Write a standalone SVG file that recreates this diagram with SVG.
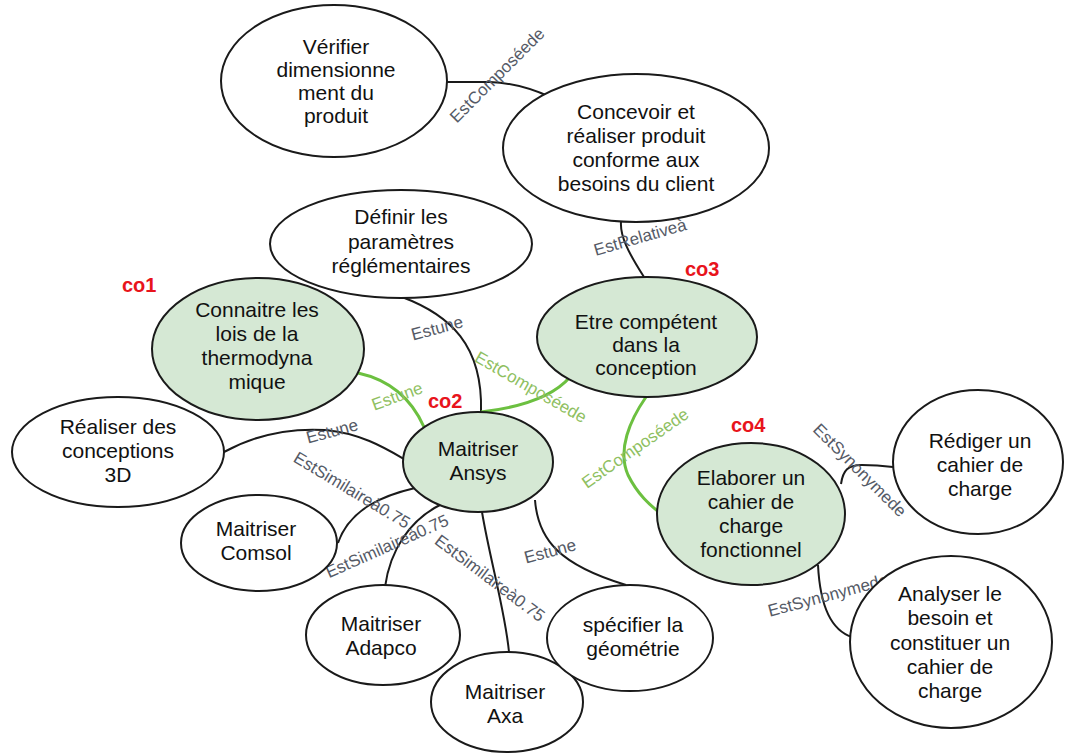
<svg xmlns="http://www.w3.org/2000/svg" width="1067" height="755" viewBox="0 0 1067 755">
<style>
.n{fill:#fff;stroke:#1a1a1a;stroke-width:2}
.g{fill:#d5e8d4;stroke:#1a1a1a;stroke-width:2}
.t{font-family:"Liberation Sans",Arial,sans-serif;font-size:21px;fill:#111;text-anchor:middle}
.e{fill:none;stroke:#1a1a1a;stroke-width:2}
.eg{fill:none;stroke:#6cc040;stroke-width:3}
.l{font-family:"Liberation Sans",Arial,sans-serif;font-size:17px;fill:#555a66;text-anchor:middle}
.lg{font-family:"Liberation Sans",Arial,sans-serif;font-size:17px;fill:#8fbf62;text-anchor:middle}
.co{font-family:"Liberation Sans",Arial,sans-serif;font-size:20px;font-weight:bold;fill:#e8141c}
</style>
<rect width="1067" height="755" fill="#fff"/>
<g id="connectors">
<path class="e" d="M446,82 L490,82 C515,83 535,90 550,97"/>
<path class="e" d="M621,222 C620,236 628,252 644,277"/>
<path class="e" d="M402,297 C450,315 483,345 481,412"/>
<path class="eg" d="M481,412 C515,408 552,398 570,377"/>
<path class="eg" d="M358,373 C390,380 412,400 424,427"/>
<path class="eg" d="M646,397 C630,420 617,450 628,475 C638,495 650,505 660,513"/>
<path class="e" d="M224,452 C255,435 290,428 325,430 C360,433 385,448 404,459"/>
<path class="e" d="M415,488 C385,495 350,508 338,543"/>
<path class="e" d="M440,505 C410,520 390,550 385,587"/>
<path class="e" d="M482,512 C490,560 505,610 509,652"/>
<path class="e" d="M535,500 C538,540 560,565 626,585"/>
<path class="e" d="M841,484 C843,470 848,465 862,465 C875,465 885,466 893,467"/>
<path class="e" d="M818,565 C820,605 830,630 852,637"/>
<text class="l" transform="translate(497,75) rotate(-45)" dy="0.35em">EstComposéede</text>
<text class="l" transform="translate(640,237) rotate(-16)" dy="0.35em">EstRelativeà</text>
<text class="l" transform="translate(437,328) rotate(-15)" dy="0.35em">Estune</text>
<text class="lg" transform="translate(531,387) rotate(30)" dy="0.35em">EstComposéede</text>
<text class="lg" transform="translate(397,396) rotate(-20)" dy="0.35em">Estune</text>
<text class="lg" transform="translate(635,448) rotate(-35)" dy="0.35em">EstComposéede</text>
<text class="l" transform="translate(332,431) rotate(-15)" dy="0.35em">Estune</text>
<text class="l" transform="translate(352,490) rotate(31)" dy="0.35em">EstSimilaireà0.75</text>
<text class="l" transform="translate(387,546) rotate(-24)" dy="0.35em">EstSimilaireà0.75</text>
<text class="l" transform="translate(490,578) rotate(37)" dy="0.35em">EstSimilaireà0.75</text>
<text class="l" transform="translate(550,551) rotate(-15)" dy="0.35em">Estune</text>
<text class="l" transform="translate(860,470) rotate(45)" dy="0.35em">EstSynonymede</text>
<text class="l" transform="translate(828,595) rotate(-15)" dy="0.35em">EstSynonymede</text>
</g>
<g id="verifier"><ellipse class="n" cx="334" cy="81" rx="113" ry="76"/>
<text class="t" x="336" y="54">Vérifier<tspan x="336" dy="23">dimensionne</tspan><tspan x="336" dy="23">ment du</tspan><tspan x="336" dy="23">produit</tspan></text></g>
<g id="concevoir"><ellipse class="n" cx="636" cy="148" rx="133" ry="74"/>
<text class="t" x="636" y="119">Concevoir et<tspan x="636" dy="24">réaliser produit</tspan><tspan x="636" dy="24">conforme aux</tspan><tspan x="636" dy="24">besoins du client</tspan></text></g>
<g id="definir"><ellipse class="n" cx="401" cy="244" rx="131" ry="54"/>
<text class="t" x="401" y="224">Définir les<tspan x="401" dy="24.5">paramètres</tspan><tspan x="401" dy="24.5">réglémentaires</tspan></text></g>
<g id="connaitre"><ellipse class="g" cx="258" cy="349" rx="106" ry="71"/>
<text class="t" x="257" y="317">Connaitre les<tspan x="257" dy="24">lois de la</tspan><tspan x="257" dy="24">thermodyna</tspan><tspan x="257" dy="24">mique</tspan></text>
<text class="co" x="122" y="292">co1</text></g>
<g id="ansys"><ellipse class="g" cx="478" cy="462" rx="75" ry="50"/>
<text class="t" x="478" y="456">Maitriser<tspan x="478" dy="24">Ansys</tspan></text>
<text class="co" x="428" y="408">co2</text></g>
<g id="etre"><ellipse class="g" cx="647" cy="337" rx="110" ry="60"/>
<text class="t" x="646" y="329">Etre compétent<tspan x="646" dy="23">dans la</tspan><tspan x="646" dy="23">conception</tspan></text>
<text class="co" x="685" y="276">co3</text></g>
<g id="elaborer"><ellipse class="g" cx="751" cy="514" rx="94" ry="71"/>
<text class="t" x="751" y="485">Elaborer un<tspan x="751" dy="24">cahier de</tspan><tspan x="751" dy="24">charge</tspan><tspan x="751" dy="24">fonctionnel</tspan></text>
<text class="co" x="731" y="432">co4</text></g>
<g id="rediger"><ellipse class="n" cx="978" cy="462" rx="85" ry="72"/>
<text class="t" x="980" y="448">Rédiger un<tspan x="980" dy="24">cahier de</tspan><tspan x="980" dy="24">charge</tspan></text></g>
<g id="analyser"><ellipse class="n" cx="951" cy="642" rx="101" ry="86"/>
<text class="t" x="950" y="601">Analyser le<tspan x="950" dy="24.3">besoin et</tspan><tspan x="950" dy="24.3">constituer un</tspan><tspan x="950" dy="24.3">cahier de</tspan><tspan x="950" dy="24.3">charge</tspan></text></g>
<g id="realiser"><ellipse class="n" cx="118" cy="452" rx="106" ry="55"/>
<text class="t" x="118" y="434">Réaliser des<tspan x="118" dy="24">conceptions</tspan><tspan x="118" dy="24">3D</tspan></text></g>
<g id="comsol"><ellipse class="n" cx="259" cy="543" rx="78" ry="48"/>
<text class="t" x="256" y="536">Maitriser<tspan x="256" dy="24">Comsol</tspan></text></g>
<g id="adapco"><ellipse class="n" cx="383" cy="635" rx="77" ry="50"/>
<text class="t" x="381" y="631">Maitriser<tspan x="381" dy="24">Adapco</tspan></text></g>
<g id="axa"><ellipse class="n" cx="507" cy="702" rx="76" ry="50"/>
<text class="t" x="505" y="699">Maitriser<tspan x="505" dy="24">Axa</tspan></text></g>
<g id="specifier"><ellipse class="n" cx="630" cy="638" rx="83" ry="53"/>
<text class="t" x="633" y="632">spécifier la<tspan x="633" dy="24">géométrie</tspan></text></g>
</svg>
